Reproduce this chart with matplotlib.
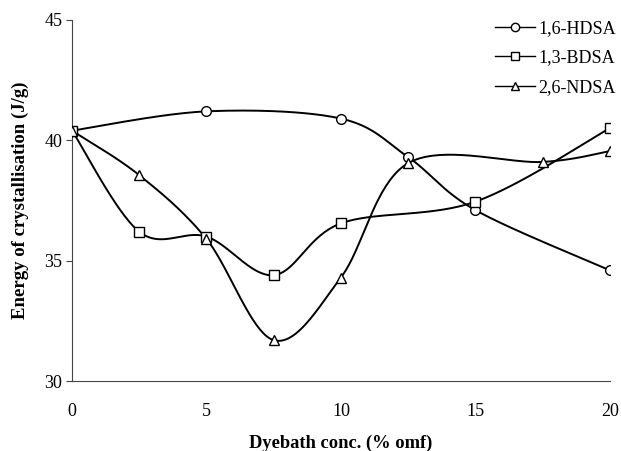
import numpy as np
import matplotlib
matplotlib.use("Agg")
import matplotlib.pyplot as plt
from matplotlib.lines import Line2D

plt.rcParams['font.family'] = ['Liberation Serif', 'DejaVu Serif']

# Dyebath concentration (% omf) vs energy of crystallisation (J/g)
hdsa_x = [0, 5, 10, 12.5, 15, 20]
hdsa_y = [40.4, 41.2, 40.9, 39.3, 37.1, 34.6]

bdsa_x = [0, 2.5, 5, 7.5, 10, 15, 20]
bdsa_y = [40.4, 36.2, 36.0, 34.4, 36.55, 37.45, 40.5]

ndsa_x = [0, 2.5, 5, 7.5, 10, 12.5, 17.5, 20]
ndsa_y = [40.4, 38.55, 35.9, 31.7, 34.3, 39.05, 39.1, 39.55]

x_ticks = [0, 5, 10, 15, 20]
y_ticks = [30, 35, 40, 45]


def smooth_curve(xs, ys, n=40):
    """Spreadsheet-style smoothed line: cubic Bezier segments through the points."""
    xs = np.asarray(xs, float)
    ys = np.asarray(ys, float)
    px = np.concatenate([[xs[0]], xs, [xs[-1]]])
    py = np.concatenate([[ys[0]], ys, [ys[-1]]])
    out_x, out_y = [], []
    t = np.linspace(0, 1, n)
    for i in range(1, len(px) - 2):
        p0 = np.array([px[i], py[i]])
        p3 = np.array([px[i + 1], py[i + 1]])
        p1 = p0 + (p3 - np.array([px[i - 1], py[i - 1]])) / 6.0
        p2 = p3 - (np.array([px[i + 2], py[i + 2]]) - p0) / 6.0
        b = ((1 - t) ** 3)[:, None] * p0 + (3 * (1 - t) ** 2 * t)[:, None] * p1 \
            + (3 * (1 - t) * t ** 2)[:, None] * p2 + (t ** 3)[:, None] * p3
        out_x.extend(b[:, 0])
        out_y.extend(b[:, 1])
    return out_x, out_y


fig = plt.figure(figsize=(6.21, 4.51), dpi=100)
ax = fig.add_axes([0.116, 0.155, 0.866, 0.801])

series = [
    (hdsa_x, hdsa_y, 'o', '1,6-HDSA'),
    (bdsa_x, bdsa_y, 's', '1,3-BDSA'),
    (ndsa_x, ndsa_y, '^', '2,6-NDSA'),
]
handles = []
for xs, ys, mk, name in series:
    sx, sy = smooth_curve(xs, ys)
    ax.plot(sx, sy, color='black', lw=1.4, zorder=2)
    ax.plot(xs, ys, linestyle='none', marker=mk, markersize=7 if mk != 's' else 6.5,
            markerfacecolor='white', markeredgecolor='black', markeredgewidth=1.0, zorder=3)
    handles.append(Line2D([], [], color='black', lw=1.0, marker=mk, markersize=6,
                          markerfacecolor='white', markeredgecolor='black', label=name))

ax.set_xlim(0, 20)
ax.set_ylim(30, 45)
ax.set_xticks(x_ticks)
ax.set_yticks(y_ticks)
ax.spines['top'].set_visible(False)
ax.spines['right'].set_visible(False)
for s in ('left', 'bottom'):
    ax.spines[s].set_linewidth(0.8)
    ax.spines[s].set_color('#444444')
ax.tick_params(axis='both', direction='out', length=4, width=0.8, color='#444444',
               labelsize=13)
ax.tick_params(axis='x', length=0, pad=16)
ax.tick_params(axis='y', pad=3)

ax.set_xlabel('Dyebath conc. (% omf)', fontsize=13.3, fontweight='bold', labelpad=10)
ax.set_ylabel('Energy of crystallisation (J/g)', fontsize=13.5, fontweight='bold', labelpad=11)

ax.legend(handles=handles, loc='upper right', bbox_to_anchor=(1.025, 1.02), frameon=False,
          fontsize=13, handlelength=2.2, handletextpad=0.2, labelspacing=0.7,
          borderaxespad=0.0)

fig.savefig('out.png', dpi=100)
